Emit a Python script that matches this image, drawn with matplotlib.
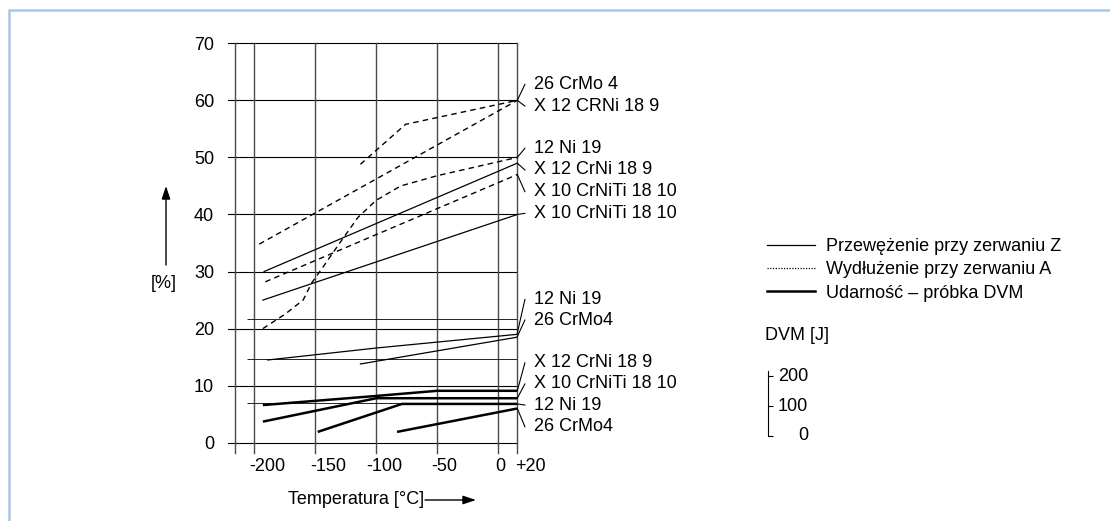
import numpy as np
import matplotlib
matplotlib.use("Agg")
import matplotlib.pyplot as plt
from matplotlib.lines import Line2D
from matplotlib.patches import Rectangle

plt.rcParams['font.family'] = ['Liberation Sans', 'DejaVu Sans']
plt.rcParams['font.size'] = 13

# ---- data ----
y_ticks = [0, 10, 20, 30, 40, 50, 60, 70]
x_grid = [-200, -150, -100, -50, 0, 20]
xtick_labels = ['-200', '-150', '-100', '-50', '0', '+20']

# Wydluzenie przy zerwaniu A (dashed)
a_26crmo4_t = [-113, -76, 20]
a_26crmo4_v = [48.8, 55.8, 60]
a_x12crni_t = [-196, 20]
a_x12crni_v = [34.8, 60]
a_12ni19_t = [-193, -175, -160, -153, -143, -130, -115, -100, -80, -50, 20]
a_12ni19_v = [20, 22.5, 25, 28, 31, 35, 39.5, 42.5, 45, 46.8, 50]
a_x10crniti_t = [-191, 20]
a_x10crniti_v = [28.2, 47]

# Przewezenie przy zerwaniu Z (thin solid)
z_x12crni_t = [-192, 20]
z_x12crni_v = [30, 49]
z_x10crniti_t = [-193, 20]
z_x10crniti_v = [25, 40]
z_12ni19_t = [-189, -100, 20]
z_12ni19_v = [14.5, 16.6, 19.0]
z_26crmo4_t = [-113, 20]
z_26crmo4_v = [13.8, 18.5]

# Udarnosc - probka DVM (thick solid)
d_x12crni_t = [-193, -100, -50, 20]
d_x12crni_v = [6.6, 8.2, 9.1, 9.1]
d_x10crniti_t = [-193, -100, 20]
d_x10crniti_v = [3.7, 7.8, 7.8]
d_12ni19_t = [-148, -79, 20]
d_12ni19_v = [1.9, 6.8, 6.8]
d_26crmo4_t = [-83, 20]
d_26crmo4_v = [1.9, 6.0]

ref_levels = [6.9, 14.6, 21.6]

end_labels = ['26 CrMo 4', 'X 12 CRNi 18 9', '12 Ni 19', 'X 12 CrNi 18 9',
              'X 10 CrNiTi 18 10', 'X 10 CrNiTi 18 10',
              '12 Ni 19', '26 CrMo4', 'X 12 CrNi 18 9', 'X 10 CrNiTi 18 10',
              '12 Ni 19', '26 CrMo4']
end_values = [60, 60, 50, 49, 47, 40, 19.2, 18.6, 9.1, 7.8, 6.8, 6.0]

legend_labels = ['Przewężenie przy zerwaniu Z', 'Wydłużenie przy zerwaniu A',
                 'Udarność – próbka DVM']
dvm_ticks = [0, 100, 200]

# ---- layout ----
W, H = 1110, 521
label_y = [62.8, 59.0, 51.6, 47.8, 44.0, 40.2, 25.1, 21.5, 14.0, 10.3, 6.6, 2.8]
xlabel_pos = [-189.4, -139.4, -93.8, -44.6, 1.8, 33.3]

fig = plt.figure(figsize=(W / 100, H / 100), dpi=100)
fig.add_artist(Rectangle((9 / W, -0.1), 1.2, 0.1 + 511.5 / H, transform=fig.transFigure,
                         fill=False, ec='#a9c5e9', lw=1.8))

ax = fig.add_axes([228 / W, 1 - 453 / H, (517.3 - 228) / W, (453 - 43.3) / H])
ax.patch.set_visible(False)

# the +20 column is drawn squeezed, as in the original drawing
def fwd(t):
    t = np.asarray(t, float)
    return np.where(t > 0, t * 0.78, t)

def inv(t):
    t = np.asarray(t, float)
    return np.where(t > 0, t / 0.78, t)

ax.set_xscale('function', functions=(fwd, inv))
ax.set_xlim(-221.6, 20)
ax.set_ylim(-1.8, 70)
for s in ax.spines.values():
    s.set_visible(False)
ax.set_xticks([])
ax.set_yticks(y_ticks)
ax.tick_params(axis='y', length=0, pad=10)

for y in y_ticks:
    ax.axhline(y, color='black', lw=0.8, clip_on=False)
for t in [-215.6] + x_grid:
    ax.axvline(t, color='#4a4a4a', lw=1.0, clip_on=False)
ax.hlines(ref_levels, -206, 20, color='black', lw=0.6)

dashed = [(a_26crmo4_t, a_26crmo4_v), (a_x12crni_t, a_x12crni_v),
          (a_12ni19_t, a_12ni19_v), (a_x10crniti_t, a_x10crniti_v)]
for t, v in dashed:
    ax.plot(t, v, color='black', lw=1.0, ls=(0, (4, 3)))
thin = [(z_x12crni_t, z_x12crni_v), (z_x10crniti_t, z_x10crniti_v),
        (z_12ni19_t, z_12ni19_v), (z_26crmo4_t, z_26crmo4_v)]
for t, v in thin:
    ax.plot(t, v, color='black', lw=0.9)
thick = [(d_x12crni_t, d_x12crni_v), (d_x10crniti_t, d_x10crniti_v),
         (d_12ni19_t, d_12ni19_v), (d_26crmo4_t, d_26crmo4_v)]
for t, v in thick:
    ax.plot(t, v, color='black', lw=1.8, solid_capstyle='butt')

for lab, v0, ly in zip(end_labels, end_values, label_y):
    ax.plot([20, 28], [v0, ly], color='black', lw=0.8, clip_on=False)
    ax.text(37.8, ly, lab, ha='left', va='center', clip_on=False)

for pos, lab in zip(xlabel_pos, xtick_labels):
    ax.text(pos, -0.0334, lab, ha='center', va='center',
            transform=ax.get_xaxis_transform(), clip_on=False)

fig.text(355.7 / W, 1 - 500 / H, 'Temperatura [°C]', ha='center', va='center')
ax.annotate('', xy=(476, H - 500), xytext=(425, H - 500),
            xycoords='figure pixels', textcoords='figure pixels',
            arrowprops=dict(arrowstyle='-|>,head_length=0.6,head_width=0.2',
                            color='black', lw=1.0, mutation_scale=13, shrinkA=0, shrinkB=0))
fig.text(163.3 / W, 1 - 283.3 / H, '[%]', ha='center', va='center')
ax.annotate('', xy=(166, H - 186), xytext=(166, H - 265),
            xycoords='figure pixels', textcoords='figure pixels',
            arrowprops=dict(arrowstyle='-|>,head_length=0.6,head_width=0.2',
                            color='black', lw=1.0, mutation_scale=13, shrinkA=0, shrinkB=0))

handles = [Line2D([], [], color='black', lw=0.9),
           Line2D([], [], color='black', lw=0.9, ls=(0, (1, 1.2))),
           Line2D([], [], color='black', lw=1.8)]
fig.legend(handles, legend_labels, loc='upper left',
           bbox_to_anchor=(766.7 / W, 1 - 238 / H), frameon=False, borderpad=0,
           borderaxespad=0, handlelength=2.7, handletextpad=0.6, labelspacing=0.35)

fig.text(765 / W, 1 - 335 / H, 'DVM [J]', ha='left', va='center')
dax = fig.add_axes([768.3 / W, 1 - 436 / H, 40 / W, 65 / H])
dax.patch.set_visible(False)
for k in ['top', 'right', 'bottom']:
    dax.spines[k].set_visible(False)
dax.spines['left'].set_linewidth(0.8)
dax.set_ylim(0, 216.7)
dax.set_xticks([])
dax.set_yticks(dvm_ticks)
dax.tick_params(axis='y', direction='in', length=3.6, width=0.8, labelleft=False)
for v in dvm_ticks:
    dax.text(1.0, v, str(v), ha='right', va='center', transform=dax.get_yaxis_transform())

fig.savefig('out.png', dpi=100)
